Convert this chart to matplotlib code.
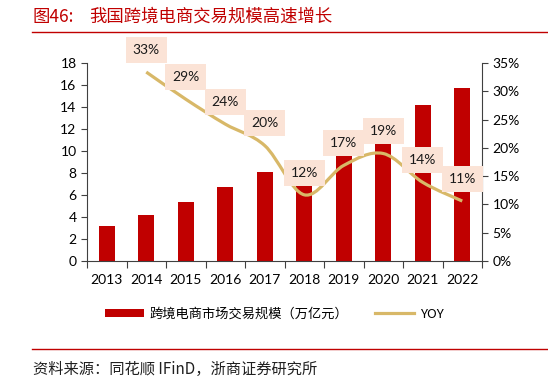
import matplotlib
matplotlib.use("Agg")
import matplotlib.pyplot as plt
from matplotlib.path import Path
from matplotlib.patches import PathPatch, Patch
from matplotlib.lines import Line2D
import numpy as np

years = ["2013", "2014", "2015", "2016", "2017", "2018", "2019", "2020", "2021", "2022"]
scale = [3.15, 4.2, 5.4, 6.7, 8.06, 7.0, 9.6, 10.8, 14.2, 15.7]
yoy_years = ["2014", "2015", "2016", "2017", "2018", "2019", "2020", "2021", "2022"]
yoy = [33.4, 28.6, 24.2, 20.4, 11.7, 16.9, 19.0, 13.9, 10.6]
yoy_labels = ["33%", "29%", "24%", "20%", "12%", "17%", "19%", "14%", "11%"]

RED = "#c00000"
GOLD = "#d8b868"
BOX = "#fbe3d6"
CJK = ["Noto Sans CJK SC", "DejaVu Sans"]
NUM = ["Lato", "DejaVu Sans"]

fig = plt.figure(figsize=(5.48, 3.8), dpi=100)
W, H = 548, 380
ax = fig.add_axes([87 / W, 1 - 261 / H, (482 - 87) / W, (261 - 63) / H])
ax2 = ax.twinx()

x = np.arange(len(years))
ax.bar(x, scale, width=0.4, color=RED, zorder=2)
ax.set_xlim(-0.5, len(years) - 0.5)
ax.set_ylim(0, 18)
ax.set_yticks(range(0, 19, 2))
ax.set_xticks(np.arange(-0.5, len(years), 1.0), minor=False)
ax.set_xticklabels([])
ax.set_xticks(x, minor=True)
ax.set_xticklabels(years, minor=True, fontsize=10, family=NUM)
ax.tick_params(axis="x", which="minor", length=0, pad=9)
ax.tick_params(axis="x", which="major", length=5, direction="out", color="#404040")
ax.tick_params(axis="y", length=4, direction="out", labelsize=10, color="#404040")
for lab in ax.get_yticklabels():
    lab.set_family(NUM)
for s in ["top", "right"]:
    ax.spines[s].set_visible(False)
for s in ["left", "bottom"]:
    ax.spines[s].set_color("#404040")

ax2.set_ylim(0, 35)
ax2.set_yticks(range(0, 36, 5))
ax2.set_yticklabels([f"{v}%" for v in range(0, 36, 5)], fontsize=10, family=NUM)
ax2.tick_params(axis="y", length=4, direction="out", color="#404040")
for s in ["top", "left", "bottom"]:
    ax2.spines[s].set_visible(False)
ax2.spines["right"].set_color("#404040")

# smooth line (Bezier through data points)
px = np.array([years.index(y) for y in yoy_years], dtype=float)
py = np.array(yoy, dtype=float)
P = np.column_stack([px, py])
n = len(P)
verts = [tuple(P[0])]
codes = [Path.MOVETO]
for i in range(n - 1):
    p0 = P[i - 1] if i > 0 else P[i]
    p1 = P[i]
    p2 = P[i + 1]
    p3 = P[i + 2] if i + 2 < n else P[i + 1]
    c1 = p1 + (p2 - p0) / 6.0
    c2 = p2 - (p3 - p1) / 6.0
    verts += [tuple(c1), tuple(c2), tuple(p2)]
    codes += [Path.CURVE4] * 3
ax2.add_patch(PathPatch(Path(verts, codes), facecolor="none", edgecolor=GOLD,
                        lw=2.3, zorder=3, capstyle="butt"))

for xi, yi, lab in zip(px, py, yoy_labels):
    ax2.annotate(lab, (xi, yi), xytext=(0, 16), textcoords="offset points",
                 ha="center", va="center", fontsize=10, family=NUM, color="#1a1a1a",
                 bbox=dict(boxstyle="square,pad=0.5", fc=BOX, ec="none"), zorder=5)

# title and rules
fig.text(33 / W, 1 - 17 / H, "图46:", color=RED,
         fontsize=12.5, family=CJK, ha="left", va="center")
fig.text(89 / W, 1 - 17 / H, "我国跨境电商交易规模高速增长", color=RED,
         fontsize=12.5, family=CJK, ha="left", va="center")
fig.add_artist(Line2D([32 / W, 1], [1 - 32 / H] * 2, color=RED, lw=1.0))
fig.add_artist(Line2D([32 / W, 1], [1 - 349 / H] * 2, color=RED, lw=1.0))
fig.text(33 / W, 1 - 369 / H, "资料来源：同花顺 IFinD，浙商证券研究所", color="#202020",
         fontsize=11, family=CJK, ha="left", va="center")

handles = [Patch(facecolor=RED, edgecolor="none"), Line2D([], [], color=GOLD, lw=2.3)]
leg = fig.legend(handles, ["跨境电商市场交易规模（万亿元）", "YOY"], loc="center",
                 bbox_to_anchor=(0.5, 1 - 314 / H), ncol=2, frameon=False,
                 prop={"family": CJK, "size": 9.5}, handlelength=3.0, handleheight=0.5,
                 columnspacing=2.0, handletextpad=0.4)

fig.savefig("out.png", dpi=100)
